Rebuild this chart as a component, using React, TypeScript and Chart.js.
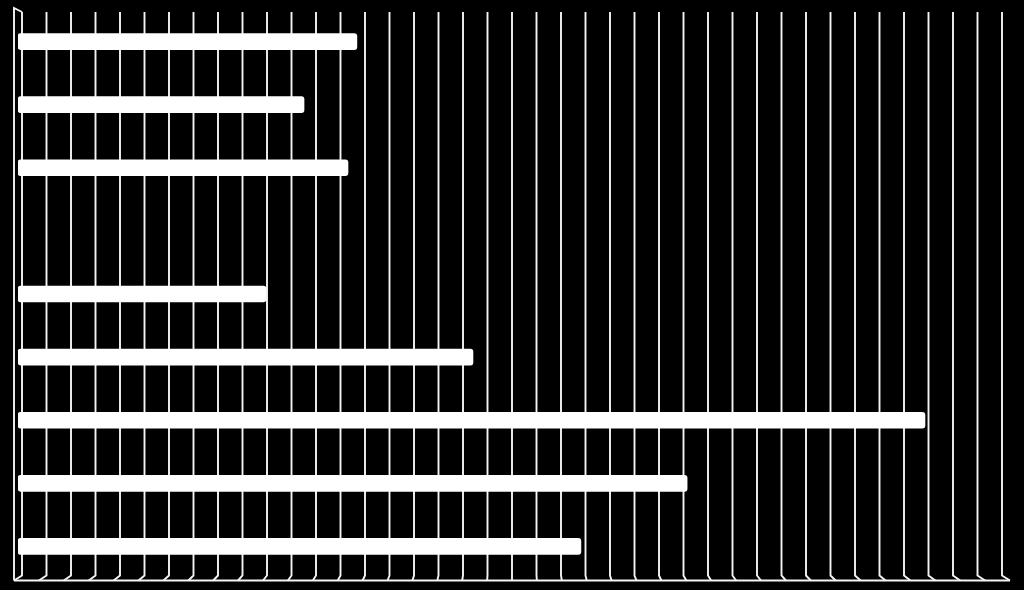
import React, { useEffect, useRef } from "react";
import { Chart, registerables } from "chart.js";

Chart.register(...registerables);

const categories = ["1", "2", "3", "4", "5", "6", "7", "8", "9"];
const values: (number | null)[] = [13.72, 11.58, 13.36, null, 10.04, 18.42, 36.72, 27.09, 22.79];
const axisMin = 0;
const axisMax = 40;
const axisStep = 1;

const perspectivePlugin = {
  id: "perspectiveGrid",
  beforeDatasetsDraw(chart: any) {
    const { ctx, chartArea, scales } = chart;
    const xs = scales.x;
    const L = chartArea.left, R = chartArea.right, T = chartArea.top, B = chartArea.bottom;
    const W = R - L;
    // back wall and front edge in perspective around the mid-depth plot area
    const bL = L + 4, bR = R - 4, bT = T + 2, bB = B - 2.5;
    const fL = L - 4, fR = R + 4, fT = T - 2, fB = B + 2.5;
    ctx.save();
    ctx.strokeStyle = "#f4f4f4";
    ctx.lineWidth = 1.9;
    ctx.lineJoin = "miter";
    const ticks = xs.ticks as { value: number }[];
    for (const t of ticks) {
      const m = xs.getPixelForValue(t.value);
      const r = (m - L) / W;
      const xb = bL + r * (bR - bL);
      const xf = fL + r * (fR - fL);
      ctx.beginPath();
      ctx.moveTo(xb, bT);
      ctx.lineTo(xb, bB);
      ctx.lineTo(xf, fB);
      ctx.stroke();
    }
    // floor front edge
    ctx.beginPath();
    ctx.moveTo(fL, fB);
    ctx.lineTo(fR, fB);
    ctx.stroke();
    // left wall
    ctx.beginPath();
    ctx.moveTo(fL, fB);
    ctx.lineTo(fL, fT);
    ctx.lineTo(bL, bT);
    ctx.stroke();
    ctx.restore();
  },
};

export default function App() {
  const ref = useRef<HTMLCanvasElement | null>(null);
  useEffect(() => {
    if (!ref.current) return;
    const chart = new Chart(ref.current, {
      type: "bar",
      data: {
        labels: categories,
        datasets: [
          {
            data: values,
            backgroundColor: "#ffffff",
            borderWidth: 0,
            borderRadius: 3,
            borderSkipped: false,
            barThickness: 16,
          },
        ],
      },
      options: {
        indexAxis: "y",
        animation: false,
        responsive: true,
        maintainAspectRatio: false,
        layout: { padding: { left: 18, right: 18, top: 10, bottom: 12 } },
        plugins: { legend: { display: false }, tooltip: { enabled: false } },
        scales: {
          x: {
            display: false,
            min: axisMin,
            max: axisMax,
            ticks: { stepSize: axisStep },
            grid: { display: false },
          },
          y: {
            display: false,
            grid: { display: false },
          },
        },
      },
      plugins: [perspectivePlugin],
    });
    return () => chart.destroy();
  }, []);
  return (
    <div
      style={{
        position: "fixed",
        left: 0,
        top: 0,
        width: 1024,
        height: 590,
        background: "#000000",
      }}
    >
      <canvas ref={ref} />
    </div>
  );
}
